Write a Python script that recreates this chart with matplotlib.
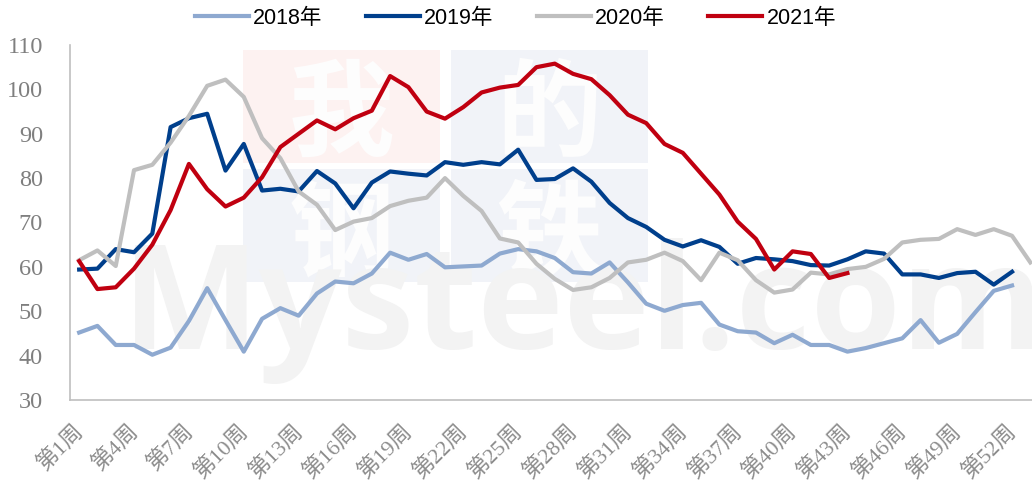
import matplotlib
matplotlib.use('Agg')
import matplotlib.pyplot as plt
from matplotlib.patches import Rectangle
from matplotlib.transforms import ScaledTranslation

weeks = ['第%d周' % i for i in range(1, 54)]

y2018 = [45.2, 46.7, 42.4, 42.4, 40.2, 41.8, 47.8, 55.2, 48, 40.9, 48.3, 50.7, 49, 54, 56.7, 56.3, 58.5, 63.2,
         61.6, 62.9, 59.9, 60.1, 60.3, 63, 64, 63.5, 62, 58.8, 58.5, 61, 56.5, 51.7, 50.1, 51.4, 51.9, 47,
         45.5, 45.2, 42.8, 44.7, 42.4, 42.4, 40.9, 41.7, 42.8, 43.9, 48, 42.9, 44.9, 49.8, 54.6, 55.8]
y2019 = [59.4, 59.6, 64, 63.3, 67.5, 91.5, 93.5, 94.5, 81.7, 87.7, 77.2, 77.6, 77, 81.6, 78.8, 73.2, 79, 81.5,
         81, 80.6, 83.6, 83, 83.6, 83.1, 86.4, 79.6, 79.8, 82.2, 79.2, 74.4, 71, 69, 66.1, 64.6, 66, 64.5,
         60.7, 62, 61.7, 61.3, 60.4, 60.3, 61.7, 63.5, 63, 58.3, 58.3, 57.5, 58.6, 58.9, 56, 58.9]
y2020 = [61.5, 63.7, 60.2, 81.8, 83, 88, 94, 100.8, 102.2, 98.3, 89, 84.5, 77, 74, 68.3, 70.2, 71, 73.7,
         74.9, 75.6, 80, 76, 72.6, 66.4, 65.5, 60.7, 57.3, 54.8, 55.4, 57.5, 61, 61.6, 63.2, 61.3, 57, 63.2,
         61.5, 57, 54.2, 54.9, 58.7, 58.3, 59.5, 60, 61.8, 65.5, 66.1, 66.3, 68.5, 67.2, 68.5, 67, 61]
y2021 = [61.3, 55, 55.4, 59.6, 65, 72.8, 83.2, 77.5, 73.6, 75.6, 80.2, 87, 90, 93, 91, 93.5, 95.2, 103,
         100.5, 95, 93.4, 96, 99.3, 100.4, 101, 105, 105.8, 103.5, 102.3, 98.7, 94.3, 92.4, 87.7, 85.7, 81,
         76.3, 70.2, 66.3, 59.4, 63.5, 62.9, 57.5, 58.6]

series = [('2018年', y2018, '#8ea9d0'), ('2019年', y2019, '#003f8c'),
          ('2020年', y2020, '#bfbfbf'), ('2021年', y2021, '#c00010')]

W, H = 1032, 484
fig = plt.figure(figsize=(W / 100, H / 100), dpi=100)

# watermark blocks, pixel boxes of the reference
for (x0, y0, c, ch) in [(243, 50, '#fdf2f1', '我'), (451, 50, '#f1f3f8', '的'),
                        (243, 169, '#f1f3f8', '钢'), (451, 169, '#f1f3f8', '铁')]:
    fig.add_artist(Rectangle((x0 / W, 1 - (y0 + 113) / H), 197 / W, 113 / H, transform=fig.transFigure,
                             facecolor=c, edgecolor='none', zorder=-3))
    fig.text((x0 + 98) / W, 1 - (y0 + 98) / H, ch, family='Noto Sans CJK SC', weight='bold', fontsize=76,
             color='#fdfdfd', ha='center', va='baseline', zorder=-2)
fig.text(122 / W, 1 - 349 / H, 'Mysteel.com', family='Open Sans', weight='bold', fontsize=105,
         color='#f3f3f3', ha='left', va='baseline', zorder=-1)

# right edge runs past the image, the last category is cut off
ax = fig.add_axes([70 / W, 1 - 400 / H, (1039.5 - 70) / W, 355 / H])
ax.patch.set_alpha(0)
for name, vals, col in series:
    ax.plot(range(len(vals)), vals, color=col, lw=3, label=name, solid_joinstyle='round')

ax.set_xlim(-0.5, 52.5)
ax.set_ylim(30, 110)
ax.set_yticks(range(30, 111, 10))
ax.set_xticks(range(0, 53, 3))
ax.set_xticklabels(weeks[::3], rotation=45, ha='right', rotation_mode='anchor', color='#8c8c8c', fontsize=16,
                   family=['Liberation Serif', 'Noto Sans CJK SC'])
ax.tick_params(axis='y', length=0, labelsize=17.5, labelcolor='#7f7f7f', pad=19.5)
ax.tick_params(axis='x', length=0, pad=10)
# after tick_params, which resets the label transforms
shift = ScaledTranslation(-7 / 100, -7 / 100, fig.dpi_scale_trans)
for lab in ax.get_xticklabels():
    lab.set_transform(lab.get_transform() + shift)
for lab in ax.get_yticklabels():
    lab.set_family('Liberation Serif')
ax.spines['top'].set_visible(False)
ax.spines['right'].set_visible(False)
ax.spines['left'].set_color('#bfbfbf')
ax.spines['bottom'].set_color('#bfbfbf')
ax.spines['left'].set_linewidth(1.2)
ax.spines['bottom'].set_linewidth(1.2)

fig.legend(loc='center left', bbox_to_anchor=(195 / W, 1 - 18 / H), ncol=4, frameon=False, handlelength=2.5,
           columnspacing=2.02, handletextpad=0.2, borderaxespad=0, borderpad=0,
           prop={'family': ['Liberation Sans', 'Noto Sans CJK SC'], 'size': 15.5})

plt.savefig('out.png', dpi=100)
